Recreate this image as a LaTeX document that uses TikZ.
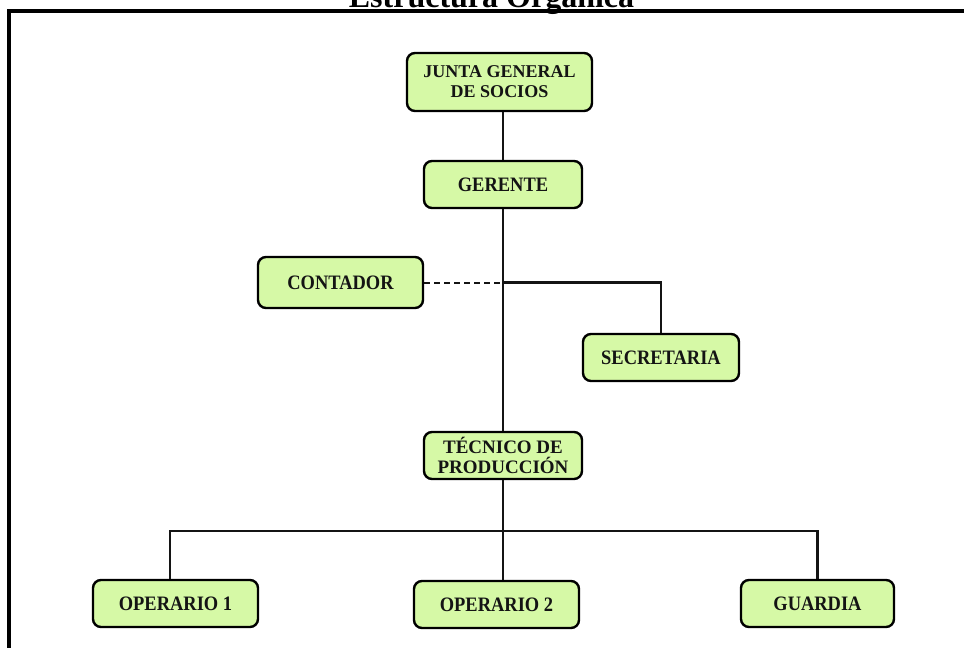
\documentclass[tikz,border=0pt]{standalone}
\usepackage{fontspec}
\setmainfont{Liberation Serif}
\newfontfamily\boxfont[FakeStretch=0.9]{Liberation Serif}
\definecolor{boxgreen}{RGB}{214,249,166}
\begin{document}
\begin{tikzpicture}[x=1pt,y=-1pt,
  org/.style={draw=black, line width=2.4pt, rounded corners=8pt, fill=boxgreen,
    inner sep=0pt, align=center, text=black!92},
  single/.style={org, font=\boxfont\bfseries\fontsize{20.5}{24}\selectfont},
  double/.style={org},
  link/.style={line width=2.2pt, draw=black!92},
  dlink/.style={line width=2pt, draw=black!92, dash pattern=on 6pt off 4pt}]
\useasboundingbox (0,0) rectangle (964,648);
\draw[line width=3.4pt] (9,700) |- (1000,11);
\node[anchor=base, font=\bfseries\fontsize{32}{36}\selectfont] (title) at (491.5,7.5) {Estructura Orgánica};

\node[double, minimum width=185pt, minimum height=58pt,
  font=\bfseries\fontsize{18}{20}\selectfont] (junta) at (499.5,82) {JUNTA GENERAL\\DE SOCIOS};
\node[single, minimum width=158pt, minimum height=47pt] (gerente) at (503,184.5) {GERENTE};
\node[single, minimum width=165pt, minimum height=51pt] (contador) at (340.5,282.5) {CONTADOR};
\node[single, minimum width=156pt, minimum height=47pt] (secretaria) at (661,357.5) {SECRETARIA};
\node[double, minimum width=158pt, minimum height=47pt,
  font=\bfseries\fontsize{19}{20}\selectfont] (tecnico) at (503,455.5) {TÉCNICO DE\\PRODUCCIÓN};
\node[single, minimum width=165pt, minimum height=47pt] (op1) at (175.5,603.5) {OPERARIO 1};
\node[single, minimum width=165pt, minimum height=47pt] (op2) at (496.5,604.5) {OPERARIO 2};
\node[single, minimum width=153pt, minimum height=47pt] (guardia) at (817.5,603.5) {GUARDIA};

\coordinate (bus) at (503.5,530.7);
\draw[link] (junta.south -| gerente.north) -- (gerente.north);
\draw[link] (gerente.south) -- (tecnico.north);
\draw[dlink] (contador.east) -- (contador.east -| gerente.south);
\draw[link] (gerente.south |- contador.east) -| (secretaria.north);
\draw[link] (tecnico.south) -- (tecnico.south |- op2.north);
\draw[link] ([xshift=-5.5pt]op1.north) |- (bus) -| (guardia.north);
\end{tikzpicture}
\end{document}
